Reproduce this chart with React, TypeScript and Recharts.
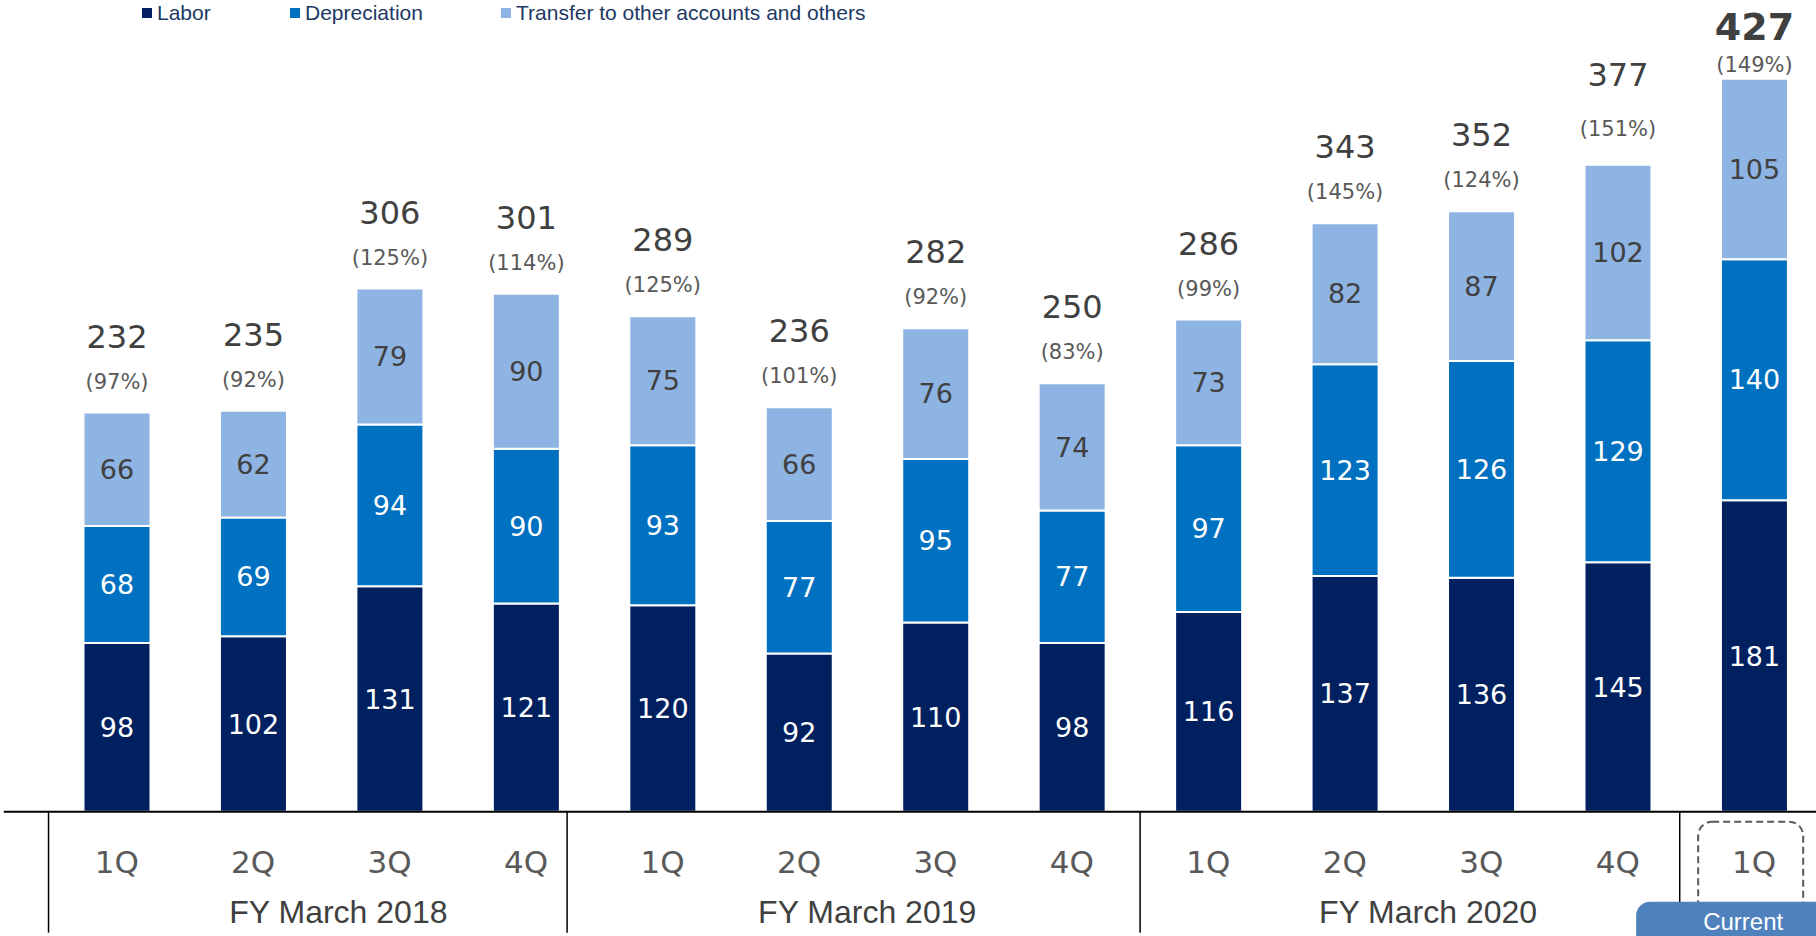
import React from 'react';
import { BarChart, Bar, XAxis, YAxis, LabelList } from 'recharts';

const quarters = ['1Q', '2Q', '3Q', '4Q', '1Q', '2Q', '3Q', '4Q', '1Q', '2Q', '3Q', '4Q', '1Q'];
const fiscalYears = ['FY March 2018', 'FY March 2019', 'FY March 2020'];
const labor = [98, 102, 131, 121, 120, 92, 110, 98, 116, 137, 136, 145, 181];
const depreciation = [68, 69, 94, 90, 93, 77, 95, 77, 97, 123, 126, 129, 140];
const transfer = [66, 62, 79, 90, 75, 66, 76, 74, 73, 82, 87, 102, 105];
const totals = [232, 235, 306, 301, 289, 236, 282, 250, 286, 343, 352, 377, 427];
const ratios = ['97%', '92%', '125%', '114%', '125%', '101%', '92%', '83%', '99%', '145%', '124%', '151%', '149%'];

const seriesNames = ['Labor', 'Depreciation', 'Transfer to other accounts and others'];
const colors = ['#002060', '#0070c0', '#8eb4e3'];

const data = quarters.map((q, i) => ({
  key: `p${i}`,
  labor: labor[i],
  depreciation: depreciation[i],
  transfer: transfer[i],
}));

const NUM_FONT = '"DejaVu Sans", Verdana, sans-serif';
const TEXT_FONT = '"Liberation Sans", Arial, sans-serif';
const lastIdx = quarters.length - 1;

const TotalLabel = (props: any) => {
  const { x, y, width, index } = props;
  const cx = x + width / 2;
  const isLast = index === lastIdx;
  // 4Q FY2020 total sits a bit higher in the original slide
  const lift = index === 11 ? 14 : 0;
  return (
    <g>
      <text
        x={cx}
        y={isLast ? y - 39 : y - 65 - lift}
        textAnchor="middle"
        fontFamily={NUM_FONT}
        fontSize={isLast ? 38 : 32}
        fontWeight={isLast ? 'bold' : 'normal'}
        fill="#404040"
      >
        {totals[index]}
      </text>
      <text x={cx} y={isLast ? y - 7 : y - 24 - lift / 3} textAnchor="middle" fontFamily={NUM_FONT} fontSize={21} fill="#595959">
        ({ratios[index]})
      </text>
    </g>
  );
};

const QuarterTick = (props: any) => {
  const { x, y, payload } = props;
  const i = payload.index;
  const half = 68.2;
  const sepH = 121;
  const sepOffsets: Record<number, number> = { 0: -half, 3: 41, 7: half, 11: 62 };
  const fyShift = [17, 0, 15];
  return (
    <g>
      {i === 0 && <line x1={x - 113} x2={x + 1800} y1={y} y2={y} stroke="#000" strokeWidth={2} />}
      {sepOffsets[i] !== undefined && (
        <line x1={x + sepOffsets[i]} x2={x + sepOffsets[i]} y1={y} y2={y + sepH} stroke="#000" strokeWidth={1.5} />
      )}
      <text x={x} y={y + 61} textAnchor="middle" fontFamily={NUM_FONT} fontSize={31} fill="#595959">
        {quarters[i]}
      </text>
      {i % 4 === 1 && i < 12 && (
        <text
          x={x + half + fyShift[(i - 1) / 4]}
          y={y + 111}
          textAnchor="middle"
          fontFamily={TEXT_FONT}
          fontSize={32}
          fill="#404040"
        >
          {fiscalYears[(i - 1) / 4]}
        </text>
      )}
      {i === lastIdx && (
        <g>
          <rect x={x - 56} y={y + 10} width={105} height={130} rx={14} fill="none" stroke="#595959" strokeWidth={2} strokeDasharray="7 4" />
          <rect x={x - 118} y={y + 90} width={200} height={60} rx={14} fill="#4f81bd" />
          <text x={x - 11} y={y + 118} textAnchor="middle" fontFamily={TEXT_FONT} fontSize={24} fill="#ffffff">
            Current
          </text>
        </g>
      )}
    </g>
  );
};

const ChartLegend = () => {
  const xs = [142, 290, 501];
  return (
    <svg width={900} height={30} style={{ position: 'absolute', left: 0, top: 0 }}>
      {seriesNames.map((n, i) => (
        <g key={n}>
          <rect x={xs[i]} y={8} width={10} height={10} fill={colors[i]} />
          <text x={xs[i] + 15} y={20} fontFamily={TEXT_FONT} fontSize={21} fill="#203864">
            {n}
          </text>
        </g>
      ))}
    </svg>
  );
};

export default function App() {
  return (
    <div style={{ position: 'absolute', left: 0, top: 0, width: 1816, height: 936, overflow: 'hidden', background: '#fff' }}>
      <BarChart width={1840} height={936} data={data} margin={{ top: 37.4, right: 17.6, left: 48.5, bottom: 0 }}>
        <XAxis dataKey="key" height={124.3} axisLine={false} tickLine={false} tickSize={0} tickMargin={0} interval={0} tick={<QuarterTick />} />
        <YAxis hide domain={[0, 450]} />
        <Bar dataKey="labor" stackId="a" fill={colors[0]} barSize={67} stroke="#ffffff" strokeWidth={2} isAnimationActive={false}>
          <LabelList dataKey="labor" position="center" fill="#ffffff" fontSize={27} fontFamily={NUM_FONT} />
        </Bar>
        <Bar dataKey="depreciation" stackId="a" fill={colors[1]} barSize={67} stroke="#ffffff" strokeWidth={2} isAnimationActive={false}>
          <LabelList dataKey="depreciation" position="center" fill="#ffffff" fontSize={27} fontFamily={NUM_FONT} />
        </Bar>
        <Bar dataKey="transfer" stackId="a" fill={colors[2]} barSize={67} stroke="#ffffff" strokeWidth={2} isAnimationActive={false}>
          <LabelList dataKey="transfer" position="center" fill="#404040" fontSize={27} fontFamily={NUM_FONT} />
          <LabelList dataKey="transfer" content={<TotalLabel />} />
        </Bar>
      </BarChart>
      <ChartLegend />
    </div>
  );
}
